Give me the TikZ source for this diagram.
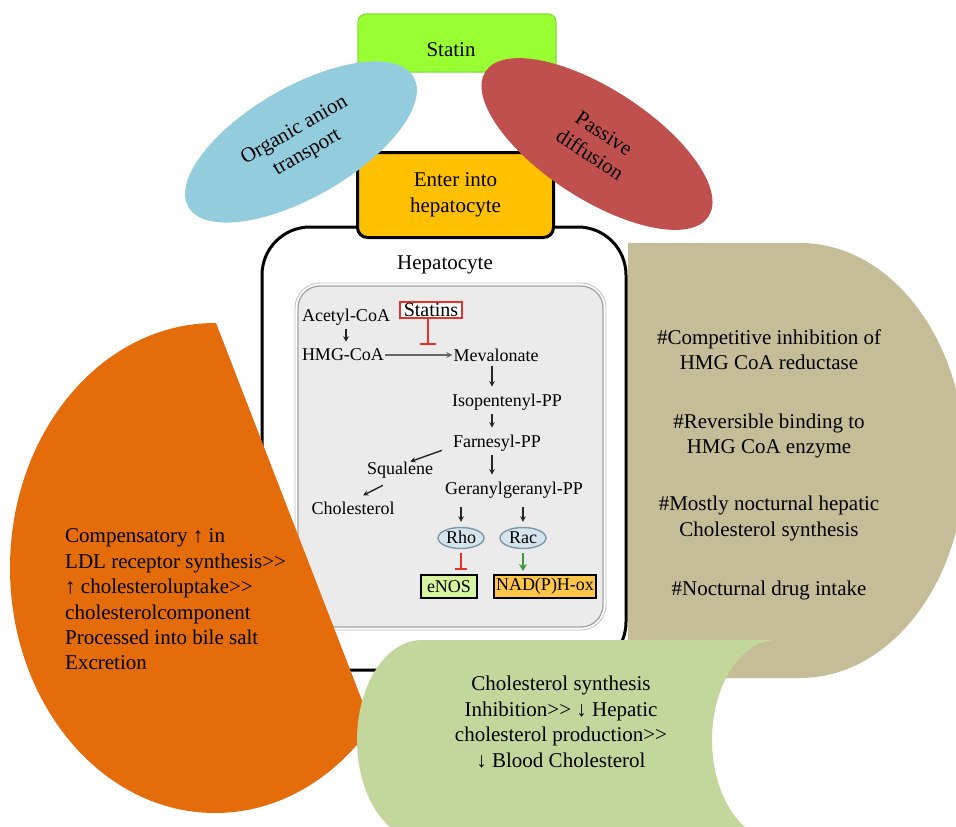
\documentclass[tikz,border=0pt]{standalone}
\usepackage{fontspec}
\setmainfont{Liberation Serif}
\usetikzlibrary{arrows.meta,shapes.geometric}
\definecolor{statinG}{HTML}{99FF33}
\definecolor{statinB}{HTML}{7FE030}
\definecolor{blueE}{HTML}{93CDDD}
\definecolor{redE}{HTML}{C0504D}
\definecolor{orangeB}{HTML}{FFC000}
\definecolor{orangeC}{HTML}{E46C0A}
\definecolor{tanC}{HTML}{C4BD97}
\definecolor{greenC}{HTML}{C3D69B}
\definecolor{greyIn}{HTML}{EBEBEB}
\definecolor{greyLn}{HTML}{A3A3A3}
\definecolor{rhoF}{HTML}{D6E4EE}
\definecolor{rhoB}{HTML}{7B98A8}
\definecolor{enosF}{HTML}{D7F4A0}
\definecolor{nadF}{HTML}{FFC64A}
\definecolor{inhR}{HTML}{E8312A}
\definecolor{actG}{HTML}{3C9A3C}
\begin{document}
\begin{tikzpicture}[x=1pt,y=-1pt,
  big/.style={font=\fontsize{21}{25.4}\selectfont, align=center, inner sep=0pt},
  pw/.style={font=\fontsize{18}{20}\selectfont, inner sep=1pt},
  arr/.style={-{Stealth[length=5.5pt,width=5.5pt]}, line width=1.4pt, black!85},
  varr/.style={arr, shorten <=3pt, shorten >=6pt},
  garr/.style={-{Stealth[length=6pt,width=6pt]}, line width=2.2pt, black!60},
  inh/.style={-{Bar[width=16pt,line width=2.5pt]}, line width=2.5pt, inhR},
  smallinh/.style={-{Bar[width=12pt,line width=2.4pt]}, line width=2.4pt, inhR, shorten <=4pt, shorten >=4pt},
  act/.style={-{Stealth[length=7pt,width=8pt]}, line width=2.6pt, actG, shorten <=4pt, shorten >=3pt},
  rhostyle/.style={ellipse, draw=rhoB, line width=1.4pt, fill=rhoF, minimum width=46, minimum height=21, inner sep=0pt, text height=11pt, text depth=1pt, font=\fontsize{18}{20}\selectfont},
  outbox/.style={draw=black, line width=2pt, minimum height=23, font=\fontsize{18}{20}\selectfont}
]
\useasboundingbox (0,0) rectangle (956,827);
\clip (0,0) rectangle (956,827);

% hepatocyte frame
\draw[line width=3pt, fill=white, rounded corners=48] (262,227) rectangle (626,670);
\node[big] (hepa) at (445,265) {Hepatocyte};

% inner pathway box
\draw[draw=greyLn!70, line width=0.8pt, rounded corners=25] (295,283) rectangle (606,630);
\draw[fill=greyIn, draw=greyLn, line width=1.3pt, rounded corners=22] (298,286) rectangle (603,627);

% pathway
\node[pw] (acetyl) at (346,317) {Acetyl-CoA};
\node[draw=inhR, line width=1.6pt, fill=white, font=\fontsize{20}{22}\selectfont, inner xsep=4pt, inner ysep=1pt] (statins) at (431,310) {Statins};
\node[pw] (hmg) at (343,355) {HMG-CoA};
\node[pw] (mev) at (496,355) {Mevalonate};
\node[pw] (iso) at (507,402) {Isopentenyl-PP};
\node[pw] (farn) at (497,443) {Farnesyl-PP};
\node[pw] (squal) at (400,470) {Squalene};
\node[pw] (geran) at (514,490) {Geranylgeranyl-PP};
\node[pw] (chol) at (353,508) {Cholesterol};
\node[rhostyle] (rho) at (461,538) {Rho};
\node[rhostyle] (rac) at (523,538) {Rac};
\node[outbox, fill=enosF, minimum width=56, inner sep=1pt] (enos) at (449,586.5) {eNOS};
\node[outbox, fill=nadF, minimum width=102, inner sep=0pt] (nad) at (545,586.5) {NAD(P)H-ox};

\coordinate (ax) at (492,0);
\coordinate (inhpt) at (428,345);
\draw[varr] (acetyl.south) -- (acetyl.south |- hmg.north);
\draw[garr] (hmg.east) -- (mev.west);
\draw[inh] (statins.south -| inhpt) -- (inhpt);
\draw[varr] (mev.south -| ax) -- (iso.north -| ax);
\draw[varr] (iso.south -| ax) -- (farn.north -| ax);
\draw[varr] (farn.south -| ax) -- (geran.north -| ax);
\draw[arr] ([xshift=-10pt,yshift=2pt]farn.south west) -- ([xshift=-24pt,yshift=-1pt]squal.north east);
\draw[arr] ([xshift=17pt,yshift=-6pt]squal.south west) -- ([xshift=10pt,yshift=5pt]chol.north);
\draw[arr, shorten <=8pt, shorten >=5pt] (geran.south -| rho) -- (rho.north);
\draw[arr, shorten <=8pt, shorten >=5pt] (geran.south -| rac) -- (rac.north);
\draw[smallinh] (rho.south) -- (rho.south |- enos.north);
\draw[act] (rac.south) -- (rac.south |- nad.north);

% enter box
\node[big, draw=black, line width=3pt, fill=orangeB, rounded corners=10, minimum width=196, minimum height=85] (enter) at (455.5,195) {Enter into\\hepatocyte};

% statin box
\node[fill=statinG, draw=statinB, line width=1.2pt, rounded corners=8, minimum width=198, minimum height=58, inner sep=0pt] (statinbox) at (457,43) {};
\node[big] (statin) at (451,50) {Statin};

% ellipses
\node[big, ellipse, fill=blueE, minimum width=260, minimum height=110, rotate=30] (oat) at (301,142) {Organic anion\\transport};
\node[big, ellipse, fill=redE, minimum width=266, minimum height=110, rotate=-33] (pd) at (597,144) {Passive\\diffusion};

% orange chord
\begin{scope}
\clip (147,144.5) -- (445,915) -- (-50,915) -- (-50,144.5) -- cycle;
\fill[orangeC] (215,568) ellipse [x radius=205, y radius=245];
\end{scope}

% tan D shape
\fill[tanC] (628,243) -- (800,243) arc[start angle=-90, end angle=90, x radius=165, y radius=217.5] -- (628,678) -- cycle;

% green stored-data shape
\begin{scope}[even odd rule]
\clip (-10,-10) rectangle (1000,900) (777,740) ellipse [x radius=65, y radius=100];
\fill[greenC] (422,640) rectangle (777,840);
\fill[greenC] (422,740) ellipse [x radius=65, y radius=100];
\end{scope}

% texts
\node[big, align=left, anchor=west] (comp) at (65,599.5) {Compensatory ↑ in\\LDL receptor synthesis>{}>\\↑ cholesteroluptake>{}>\\cholesterolcomponent\\Processed into bile salt\\Excretion};
\node[big] (t1) at (769,350) {\#Competitive inhibition of\\HMG CoA reductase};
\node[big] (t2) at (769,436) {\#Reversible binding to\\HMG CoA enzyme};
\node[big] (t3) at (769,518.5) {\#Mostly nocturnal hepatic\\Cholesterol synthesis};
\node[big] (t4) at (769,590) {\#Nocturnal drug intake};
\node[big] (gtext) at (561,722) {Cholesterol synthesis\\Inhibition>{}> ↓ Hepatic\\cholesterol production>{}>\\↓ Blood Cholesterol};
\end{tikzpicture}
\end{document}
